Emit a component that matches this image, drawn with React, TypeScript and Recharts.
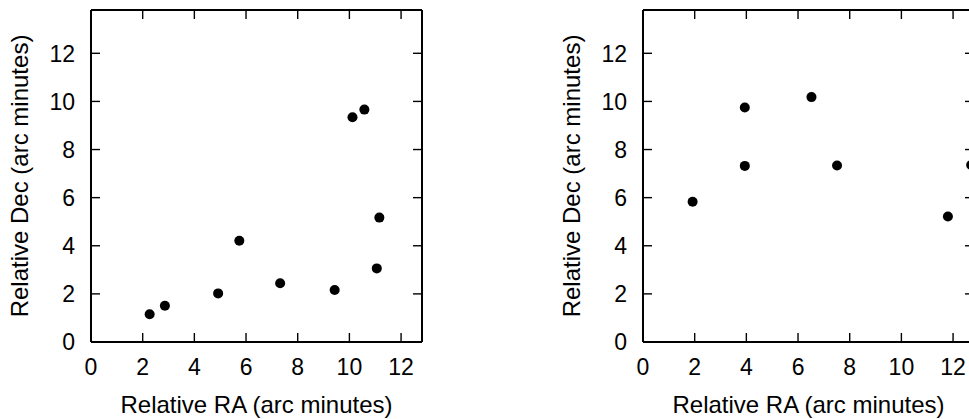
import React from 'react';
import { ScatterChart, Scatter, XAxis, YAxis } from 'recharts';

const leftRA = [2.27, 2.86, 4.92, 5.74, 7.32, 9.43, 10.12, 10.58, 11.16, 11.06];
const leftDec = [1.15, 1.51, 2.02, 4.21, 2.44, 2.16, 9.34, 9.66, 5.17, 3.06];
const rightRA = [1.92, 3.94, 3.94, 6.52, 7.51, 11.8, 12.7];
const rightDec = [5.83, 9.75, 7.32, 10.18, 7.34, 5.22, 7.36];
const xTicks = [0, 2, 4, 6, 8, 10, 12];
const yTicks = [0, 2, 4, 6, 8, 10, 12];
const X_MAX = 12.81;
const Y_MAX = 13.8;
const xLabel = 'Relative RA (arc minutes)';
const yLabel = 'Relative Dec (arc minutes)';

const FONT = '"Liberation Sans", Arial, Helvetica, sans-serif';
const TICK_FS = 23;
const LABEL_FS = 24;
const TICK_LEN = 9;
const TICK_W = 1.4;

const axisLine = { stroke: '#000', strokeWidth: 2 };

const BottomTick = (p: any) => {
  const { x, y, payload } = p;
  return (
    <g>
      <line x1={x} x2={x} y1={y} y2={y - TICK_LEN} stroke="#000" strokeWidth={TICK_W} />
      <text x={x} y={y + 33} textAnchor="middle" fontSize={TICK_FS} fontFamily={FONT} fill="#000">
        {payload.value}
      </text>
    </g>
  );
};

const LeftTick = (p: any) => {
  const { x, y, payload } = p;
  return (
    <g>
      <line x1={x} x2={x + TICK_LEN} y1={y} y2={y} stroke="#000" strokeWidth={TICK_W} />
      <text x={x - 16} y={y + 8.2} textAnchor="end" fontSize={TICK_FS} fontFamily={FONT} fill="#000">
        {payload.value}
      </text>
    </g>
  );
};

const TopTick = (p: any) => {
  const { x, y } = p;
  return <line x1={x} x2={x} y1={y} y2={y + TICK_LEN} stroke="#000" strokeWidth={TICK_W} />;
};

const RightTick = (p: any) => {
  const { x, y } = p;
  return <line x1={x} x2={x - TICK_LEN} y1={y} y2={y} stroke="#000" strokeWidth={TICK_W} />;
};

const XLab = (props: any) => {
  const vb = props.viewBox || {};
  const { x = 0, y = 0, width = 0, height = 0 } = vb;
  return (
    <text x={x + width / 2} y={y + height - 6.5} textAnchor="middle" fontSize={LABEL_FS} fontFamily={FONT} fill="#000">
      {xLabel}
    </text>
  );
};

const YLab = (props: any) => {
  const vb = props.viewBox || {};
  const { x = 0, y = 0, height = 0 } = vb;
  const cx = x + 28.4;
  const cy = y + height / 2;
  return (
    <text x={cx} y={cy} transform={`rotate(-90, ${cx}, ${cy})`} textAnchor="middle" fontSize={LABEL_FS} fontFamily={FONT} fill="#000">
      {yLabel}
    </text>
  );
};

const Dot = (props: any) => {
  const { cx, cy } = props;
  if (cx == null || cy == null) return null;
  return <circle cx={cx} cy={cy} r={5} fill="#000" />;
};

function Panel({ ra, dec }: { ra: number[]; dec: number[] }) {
  const data = ra.map((x, i) => ({ x, y: dec[i] }));
  return (
    <ScatterChart width={469} height={419} margin={{ top: 9, right: 46, bottom: 0, left: 0 }}>
      <XAxis
        xAxisId="b"
        dataKey="x"
        type="number"
        orientation="bottom"
        domain={[0, X_MAX]}
        ticks={xTicks}
        interval={0}
        allowDataOverflow
        height={77}
        tickSize={0}
        tickMargin={0}
        tick={(p: any) => <BottomTick {...p} />}
        axisLine={axisLine}
        tickLine={false}
        label={<XLab />}
      />
      <XAxis
        xAxisId="t"
        dataKey="x"
        type="number"
        orientation="top"
        domain={[0, X_MAX]}
        ticks={xTicks}
        interval={0}
        allowDataOverflow
        height={1}
        tickSize={0}
        tickMargin={0}
        tick={(p: any) => <TopTick {...p} />}
        axisLine={axisLine}
        tickLine={false}
      />
      <YAxis
        yAxisId="l"
        dataKey="y"
        type="number"
        orientation="left"
        domain={[0, Y_MAX]}
        ticks={yTicks}
        interval={0}
        allowDataOverflow
        width={91}
        tickSize={0}
        tickMargin={0}
        tick={(p: any) => <LeftTick {...p} />}
        axisLine={axisLine}
        tickLine={false}
        label={<YLab />}
      />
      <YAxis
        yAxisId="r"
        dataKey="y"
        type="number"
        orientation="right"
        domain={[0, Y_MAX]}
        ticks={yTicks}
        interval={0}
        allowDataOverflow
        width={1}
        tickSize={0}
        tickMargin={0}
        tick={(p: any) => <RightTick {...p} />}
        axisLine={axisLine}
        tickLine={false}
      />
      <Scatter data={data} xAxisId="b" yAxisId="l" shape={<Dot />} isAnimationActive={false} />
    </ScatterChart>
  );
}

export default function App() {
  return (
    <div style={{ position: 'fixed', left: 0, top: 0, width: 969, height: 419, overflow: 'hidden', background: '#fff' }}>
      <div style={{ position: 'absolute', left: 0, top: 0 }}>
        <Panel ra={leftRA} dec={leftDec} />
      </div>
      <div style={{ position: 'absolute', left: 552, top: 0 }}>
        <Panel ra={rightRA} dec={rightDec} />
      </div>
    </div>
  );
}
